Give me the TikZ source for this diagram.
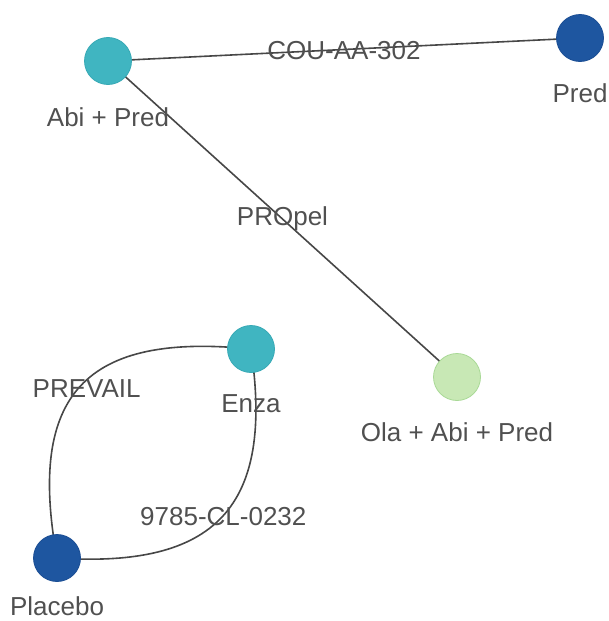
\documentclass[tikz,border=0pt]{standalone}
\usepackage{fontspec}
\setmainfont{Liberation Sans}
\usetikzlibrary{backgrounds}
\definecolor{teal1}{HTML}{40B5C1}
\definecolor{teal1b}{HTML}{37A9B5}
\definecolor{navy1}{HTML}{1E56A0}
\definecolor{navy1b}{HTML}{1B4E94}
\definecolor{green1}{HTML}{C8E8B5}
\definecolor{green1b}{HTML}{A9D996}
\definecolor{edgec}{HTML}{474747}
\definecolor{textc}{HTML}{505050}
\tikzset{
  trt/.style={circle, minimum size=47pt, inner sep=0pt, line width=0.8pt},
  tteal/.style={trt, fill=teal1, draw=teal1b},
  tnavy/.style={trt, fill=navy1, draw=navy1b},
  tgreen/.style={trt, fill=green1, draw=green1b},
  lbl/.style={text=textc, font=\fontsize{26}{30}\selectfont, inner sep=0pt, anchor=center},
  edge/.style={draw=edgec, line width=1.6pt},
}
\begin{document}
\begin{tikzpicture}[x=1pt,y=-1pt]
\useasboundingbox (0,0) rectangle (609,621);
% nodes
\node[tteal] (abi) at (108,61) {};
\node[tnavy] (pred) at (580,38) {};
\node[tgreen] (ola) at (457,377) {};
\node[tteal] (enza) at (251,349) {};
\node[tnavy] (placebo) at (57,558) {};
% node labels
\node[lbl] (abiL) at (108,117) {Abi + Pred};
\node[lbl] (predL) at (580,93) {Pred};
\node[lbl] (olaL) at (457,432) {Ola + Abi + Pred};
\node[lbl] (enzaL) at (251,404) {Enza};
\node[lbl] (placeboL) at (57,606.5) {Placebo};
% edges
\begin{scope}[on background layer]
\draw[edge] (abi.center) -- node[lbl, pos=0.5, yshift=-1pt] (e1) {COU-AA-302} (pred.center);
\draw[edge] (abi.center) -- node[lbl, pos=0.5] (e2) {PROpel} (ola.center);
\draw[edge] (enza.center) .. controls +(-165.7,-16.8) and +(-29.9,-163.8) ..
  node[lbl, pos=0.5, xshift=6pt, yshift=-3pt] (e3) {PREVAIL} (placebo.center);
\draw[edge] (enza.center) .. controls +(23.2,157.7) and +(159,10.7) ..
  node[lbl, pos=0.5, xshift=1pt] (e4) {9785-CL-0232} (placebo.center);
\end{scope}
\end{tikzpicture}
\end{document}
